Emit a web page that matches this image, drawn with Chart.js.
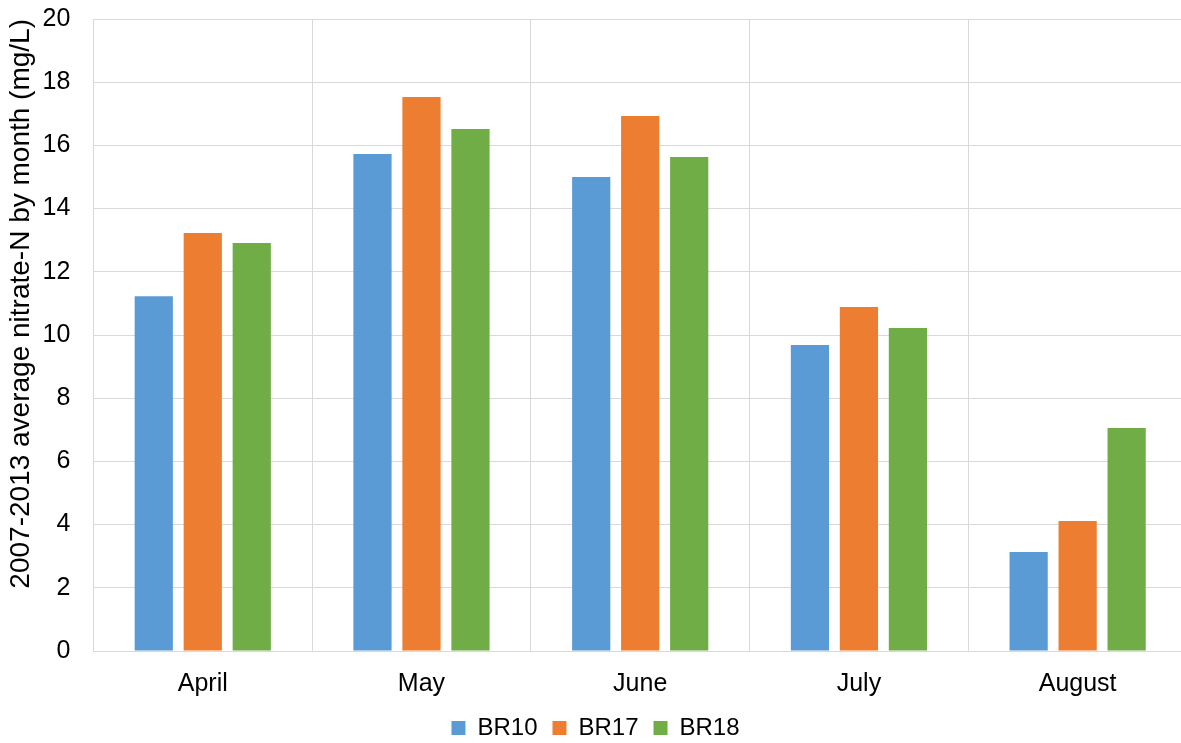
<!DOCTYPE html>
<html>
<head>
<meta charset="utf-8">
<script src="https://cdn.jsdelivr.net/npm/chart.js@4/dist/chart.umd.min.js"></script>
<style>
  html, body { margin: 0; padding: 0; background: #fff; overflow: hidden; }
  #wrap { width: 1187px; height: 743px; }
</style>
</head>
<body>
<div id="wrap"><canvas id="chart"></canvas></div>
<script>
var months = ['April', 'May', 'June', 'July', 'August'];
var br10 = [11.23, 15.73, 15.0, 9.68, 3.13];
var br17 = [13.23, 17.53, 16.93, 10.89, 4.11];
var br18 = [12.91, 16.52, 15.63, 10.22, 7.06];
var yTicks = [0, 2, 4, 6, 8, 10, 12, 14, 16, 18, 20];

var font = 'Arial, "Liberation Sans", sans-serif';

function ds(label, values, color) {
    return {
        label: label,
        data: values,
        backgroundColor: color,
        borderWidth: 0,
        categoryPercentage: 0.672,
        barPercentage: 0.78
    };
}

// fix the legend block height so the plot bottom lands where it should
var legendHeight = {
    id: 'legendHeight',
    beforeInit: function (chart) {
        var fit = chart.legend.fit;
        chart.legend.fit = function () {
            fit.bind(chart.legend)();
            this.height = 42;
        };
    }
};

new Chart(document.getElementById('chart'), {
    type: 'bar',
    data: {
        labels: months,
        datasets: [
            ds('BR10', br10, '#5B9BD5'),
            ds('BR17', br17, '#ED7D31'),
            ds('BR18', br18, '#70AD47')
        ]
    },
    plugins: [legendHeight],
    options: {
        responsive: true,
        maintainAspectRatio: false,
        animation: false,
        layout: { padding: { top: 0, left: 4, right: 0, bottom: 0 } },
        plugins: {
            tooltip: { enabled: false },
            legend: {
                position: 'bottom',
                labels: {
                    color: '#000',
                    font: { family: font, size: 24 },
                    boxWidth: 14,
                    boxHeight: 14,
                    padding: 15
                }
            }
        },
        scales: {
            x: {
                grid: { color: '#d9d9d9', drawTicks: false, offset: true },
                border: { color: '#d9d9d9' },
                ticks: {
                    color: '#000',
                    font: { family: font, size: 25 },
                    padding: 18
                },
                afterFit: function (axis) {
                    axis.height = 50;
                }
            },
            y: {
                min: 0,
                max: 20,
                afterBuildTicks: function (axis) {
                    axis.ticks = yTicks.map(function (v) { return { value: v }; });
                },
                afterFit: function (axis) {
                    axis.paddingTop = 19;
                    axis.paddingBottom = 0;
                },
                grid: { color: '#d9d9d9', drawTicks: false },
                border: { color: '#d9d9d9' },
                ticks: {
                    color: '#000',
                    font: { family: font, size: 25 },
                    padding: 23
                },
                title: {
                    display: true,
                    text: '2007-2013 average nitrate-N by month (mg/L)',
                    align: 'end',
                    color: '#000',
                    font: { family: font, size: 28 },
                    padding: { top: 0, bottom: -18 }
                }
            }
        }
    }
});
</script>
</body>
</html>
